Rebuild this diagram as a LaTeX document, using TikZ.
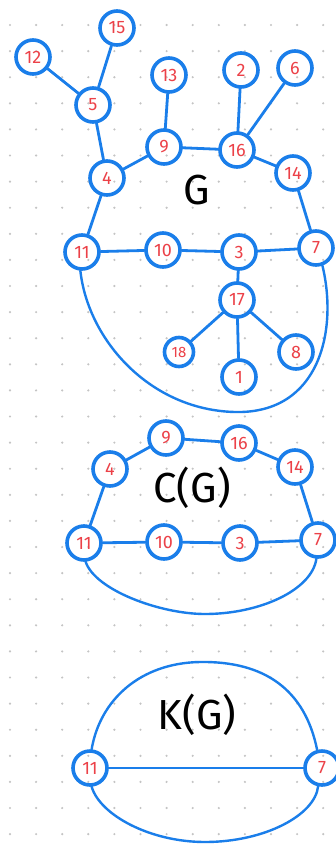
\documentclass[tikz,border=0pt]{standalone}
\usepackage{fontspec}
\setmainfont{Fira Sans}
\definecolor{eblue}{HTML}{1A7EEA}
\definecolor{ered}{HTML}{EC4148}
\definecolor{dotgray}{HTML}{C4C4C4}
\begin{document}
\begin{tikzpicture}[x=1pt,y=-1pt,
  vtx/.style={circle,draw=eblue,line width=3.6pt,minimum size=34pt,inner sep=0pt,text=ered,font=\fontsize{18}{18}\selectfont},
  small/.style={minimum size=29pt,font=\fontsize{15}{15}\selectfont},
  edge/.style={draw=eblue,line width=2.8pt,line cap=round},
  curve/.style={draw=eblue,line width=2.4pt,line cap=round},
  title/.style={font=\fontsize{42}{42}\selectfont,text=black}]
\useasboundingbox (0,0) rectangle (336,844);
\fill[white] (0,0) rectangle (336,844);
% dot grid
\foreach \i in {0,...,12}{
  \foreach \j in {0,...,31}{
    \fill[dotgray] (10+26.1*\i,25+26.1*\j) circle (1.2pt);
  }
}
% ---------- G ----------
\node[vtx] (g12) at (33,57) {12};
\node[vtx] (g15) at (117,28) {15};
\node[vtx] (g5) at (93,105) {5};
\node[vtx] (g13) at (169,75) {13};
\node[vtx] (g2) at (241,70) {2};
\node[vtx] (g6) at (295,68) {6};
\node[vtx] (g9) at (164,147) {9};
\node[vtx] (g16) at (237,150) {16};
\node[vtx] (g4) at (107,178) {4};
\node[vtx] (g14) at (293,173) {14};
\node[title] (gl) at (197,190) {G};
\node[vtx] (g11) at (82,252) {11};
\node[vtx] (g10) at (163,250) {10};
\node[vtx] (g3) at (239,252) {3};
\node[vtx] (g7) at (316,248) {7};
\node[vtx] (g17) at (237,300) {17};
\node[vtx,small] (g18) at (179,352) {18};
\node[vtx] (g1) at (239,377) {1};
\node[vtx] (g8) at (296,352) {8};
\draw[edge] (g12) -- (g5);
\draw[edge] (g15) -- (g5);
\draw[edge] (g5) -- (g4);
\draw[edge] (g4) -- (g9);
\draw[edge] (g13) -- (g9);
\draw[edge] (g9) -- (g16);
\draw[edge] (g2) -- (g16);
\draw[edge] (g6) -- (g16);
\draw[edge] (g16) -- (g14);
\draw[edge] (g4) -- (g11);
\draw[edge] (g14) -- (g7);
\draw[edge] (g11) -- (g10);
\draw[edge] (g10) -- (g3);
\draw[edge] (g3) -- (g7);
\draw[edge] (g3) -- (g17);
\draw[edge] (g17) -- (g18);
\draw[edge] (g17) -- (g1);
\draw[edge] (g17) -- (g8);
\draw[curve] (g11.265) .. controls (88,340) and (150,410) .. (235,412)
  .. controls (320,414) and (338,330) .. (g7.290);
% ---------- C(G) ----------
\node[vtx] (c9) at (166,438) {9};
\node[vtx] (c16) at (239,443) {16};
\node[vtx] (c4) at (110,469) {4};
\node[vtx] (c14) at (295,467) {14};
\node[title] (cl) at (192,488) {C(G)};
\node[vtx] (c11) at (84,543) {11};
\node[vtx] (c10) at (164,542) {10};
\node[vtx] (c3) at (240,543) {3};
\node[vtx] (c7) at (318,540) {7};
\draw[edge] (c4) -- (c9);
\draw[edge] (c9) -- (c16);
\draw[edge] (c16) -- (c14);
\draw[edge] (c4) -- (c11);
\draw[edge] (c14) -- (c7);
\draw[edge] (c11) -- (c10);
\draw[edge] (c10) -- (c3);
\draw[edge] (c3) -- (c7);
\draw[curve] (c11.275) .. controls (95,590) and (160,614) .. (205,614)
  .. controls (260,614) and (312,590) .. (c7.265);
% ---------- K(G) ----------
\node[vtx] (k11) at (90,768) {11};
\node[vtx] (k7) at (322,768) {7};
\node[title] (kl) at (197,715) {K(G)};
\draw[curve] (k11) -- (k7);
\draw[curve] (k11.85) .. controls (100,700) and (140,663) .. (200,662)
  .. controls (265,661) and (305,690) .. (k7.105);
\draw[curve] (k11.275) .. controls (100,815) and (150,842) .. (205,842)
  .. controls (265,842) and (315,815) .. (k7.258);
\end{tikzpicture}
\end{document}
